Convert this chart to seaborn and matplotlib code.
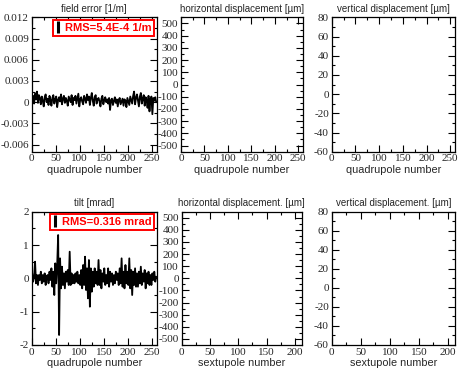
import numpy as np
import pandas as pd
import matplotlib
matplotlib.use("Agg")
import matplotlib.pyplot as plt
from matplotlib.lines import Line2D
from matplotlib.ticker import MultipleLocator
import seaborn as sns

# quadrupole numbers (every second magnet)
quad_number = np.arange(1, 260, 2)

# quadrupole field error [1/m]
field_error = [
    0.0003, 0.0009, -0.0002, 0.0012, 0.0004, 0.0015, -0.0001, 0.0010, 0.0006, -0.0003,
    0.0008, 0.0002, -0.0006, 0.0007, 0.0011, 0.0000, 0.0005, -0.0004, 0.0009, 0.0003,
    -0.0005, 0.0006, 0.0010, -0.0002, 0.0004, 0.0008, -0.0007, 0.0003, 0.0007, 0.0001,
    0.0011, -0.0003, 0.0005, 0.0009, -0.0001, 0.0006, 0.0002, -0.0005, 0.0008, 0.0004,
    0.0000, 0.0010, -0.0004, 0.0006, 0.0003, 0.0009, -0.0002, 0.0005, 0.0012, -0.0006,
    0.0004, 0.0007, 0.0001, -0.0003, 0.0009, 0.0005, -0.0001, 0.0011, 0.0003, 0.0008,
    -0.0004, 0.0006, 0.0013, 0.0002, -0.0005, 0.0007, 0.0010, -0.0002, 0.0004, 0.0006,
    0.0001, -0.0006, 0.0005, 0.0009, -0.0003, 0.0003, 0.0007, 0.0000, 0.0004, -0.0002,
    0.0006, -0.0011, 0.0003, 0.0005, -0.0004, 0.0002, 0.0007, -0.0001, 0.0004, -0.0006,
    0.0003, 0.0006, -0.0003, 0.0001, 0.0005, -0.0005, 0.0004, 0.0002, -0.0007, 0.0006,
    0.0001, -0.0004, 0.0008, 0.0003, -0.0002, 0.0009, 0.0015, -0.0003, 0.0006, 0.0011,
    0.0002, -0.0006, 0.0008, 0.0013, -0.0002, 0.0005, 0.0010, -0.0005, 0.0007, 0.0003,
    -0.0008, 0.0009, -0.0013, 0.0004, 0.0008, -0.0017, 0.0006, 0.0002, 0.0007, 0.0000,
]

# quadrupole tilt [mrad]
tilt = [
    0.15, -0.1, 0.05, 0.5, -0.15, 0.1, -0.2, 0.1, -0.05, 0.2,
    -0.15, 0.1, -0.1, 0.15, -0.2, 0.05, 0.1, -0.15, 0.2, -0.05,
    0.3, -0.25, 0.2, -0.5, 0.45, -0.15, 0.4, 1.3, -1.7, 0.6,
    -0.3, 0.35, -0.2, 0.15, -0.3, 0.2, -0.1, 0.25, -0.2, 0.8,
    -0.2, 0.15, -0.15, 0.1, -0.15, 0.15, -0.1, 0.2, -0.15, 0.1,
    -0.2, 0.25, -0.3, 0.4, -0.2, 0.65, -0.35, 0.3, -0.6, 0.55,
    -0.85, 0.3, -0.4, 0.2, -0.25, 0.3, -0.15, 0.2, -0.2, 0.55,
    -0.2, 0.25, -0.3, 0.15, -0.1, 0.3, -0.2, 0.1, -0.15, 0.3,
    -0.25, 0.2, -0.1, 0.15, -0.2, 0.1, -0.15, 0.2, -0.05, 0.15,
    -0.2, 0.3, -0.15, 0.6, -0.25, 0.2, -0.3, 0.4, -0.15, 0.2,
    -0.2, 0.6, -0.3, 0.25, -0.5, 0.2, -0.2, 0.3, -0.25, 0.15,
    -0.25, 0.2, -0.15, 0.35, -0.2, 0.15, -0.1, 0.25, -0.3, 0.15,
    -0.15, 0.2, -0.2, 0.1, -0.2, 0.15, -0.05, 0.2, -0.1, 0.05,
]

titles = ["field error [1/m]", "horizontal displacement [\u00b5m]", "vertical displacement [\u00b5m]",
          "tilt [mrad]", "horizontal displacement. [\u00b5m]", "vertical displacement. [\u00b5m]"]
xlabels = ["quadrupole number"] * 4 + ["sextupole number"] * 2
rms_labels = ["RMS=5.4E-4 1/m", "RMS=0.316 mrad"]

sns.set_style("ticks")
plt.rcParams["font.family"] = ["Liberation Sans", "DejaVu Sans"]
plt.rcParams["axes.unicode_minus"] = False

W, H = 463, 371
fig = plt.figure(figsize=(W / 100, H / 100), dpi=100)


def box(l, t, r, b):
    return [l / W, 1 - b / H, (r - l) / W, (b - t) / H]


rects = [(31.7, 17.3, 156.7, 151.7), (181, 17.3, 303, 151.7), (331.7, 17.3, 455, 151.7),
         (31.7, 211.7, 156.7, 345), (181.7, 211.7, 301.7, 345), (331.7, 211.7, 455, 345)]
xlims = [(0, 260)] * 4 + [(0, 212)] * 2
ylims = [(-0.007, 0.012), (-550, 550), (-60, 80), (-2, 2), (-550, 550), (-60, 80)]
ymaj = [0.003, 100, 20, 1, 100, 20]

axes = []
for i, r in enumerate(rects):
    ax = fig.add_axes(box(*r))
    ax.set_xlim(*xlims[i])
    ax.set_ylim(*ylims[i])
    ax.xaxis.set_major_locator(MultipleLocator(50))
    ax.xaxis.set_minor_locator(MultipleLocator(25))
    ax.yaxis.set_major_locator(MultipleLocator(ymaj[i]))
    ax.yaxis.set_minor_locator(MultipleLocator(ymaj[i] / 2))
    ax.tick_params(which="both", direction="in", top=True, right=True, color="black",
                   width=0.8, labelsize=8, pad=2)
    ax.tick_params(which="major", length=5)
    ax.tick_params(which="minor", length=2.5)
    for sp in ax.spines.values():
        sp.set_color("black")
        sp.set_linewidth(0.9)
    ax.set_title(titles[i], fontsize=7, pad=4)
    axes.append(ax)

# y tick labels without trailing zeros, like the original
axes[0].yaxis.set_major_formatter(plt.FuncFormatter(lambda v, p: "0" if abs(v) < 1e-9 else f"{v:.3f}"))

df_q = pd.DataFrame({"quad": quad_number, "field_error": field_error, "tilt": tilt})
sns.lineplot(data=df_q, x="quad", y="field_error", ax=axes[0], color="black", linewidth=1.3)
sns.lineplot(data=df_q, x="quad", y="tilt", ax=axes[3], color="black", linewidth=1.3)

for ax, lab in zip([axes[0], axes[3]], rms_labels):
    h = Line2D([], [], color="black", marker="|", linestyle="none", markersize=9, markeredgewidth=2.2)
    leg = ax.legend([h], [lab], loc="upper right", frameon=True, fancybox=False,
                    handlelength=0.4, handletextpad=0.4, borderpad=0.25, borderaxespad=0.25,
                    prop={"size": 8, "weight": "bold"})
    leg.get_frame().set_edgecolor("red")
    leg.get_frame().set_linewidth(1.4)
    leg.get_frame().set_alpha(1)
    for t in leg.get_texts():
        t.set_color("red")

for i, ax in enumerate(axes):
    ax.set_xlabel(xlabels[i], fontsize=7.8, labelpad=1)
    ax.set_ylabel("")
    for lab_t in ax.get_xticklabels() + ax.get_yticklabels():
        lab_t.set_family("Liberation Serif")

fig.savefig("out.png", dpi=100)
